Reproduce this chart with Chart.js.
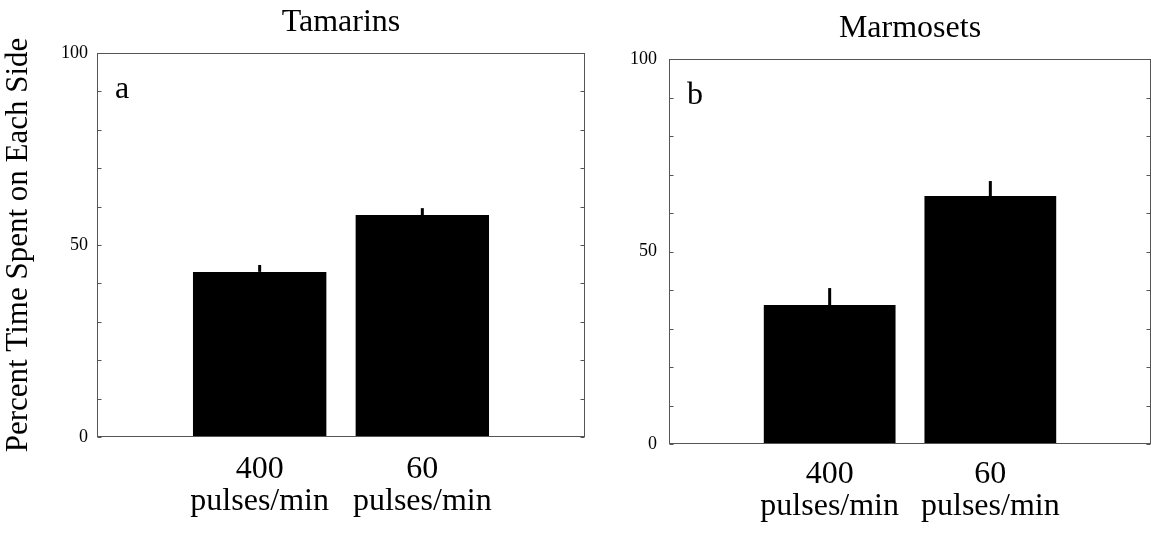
<!DOCTYPE html>
<html>
<head>
<meta charset="utf-8">
<script src="https://cdn.jsdelivr.net/npm/chart.js@4.4.0/dist/chart.umd.min.js"></script>
<style>
  body { margin: 0; background: #fff; width: 1151px; height: 533px; overflow: hidden; position: relative; }
  .panel { position: absolute; top: 0; height: 533px; }
</style>
</head>
<body>
<div class="panel" style="left:0;width:602px"><canvas id="tamarinChart"></canvas></div>
<div class="panel" style="left:600px;width:566px"><canvas id="marmosetChart"></canvas></div>
<script>
// data
const categories = [["400", "pulses/min"], ["60", "pulses/min"]];
const categoryPositions = [1, 2];
const tamarinValues = [43.0, 57.8];
const tamarinErrors = [1.8, 1.8];
const marmosetValues = [36.1, 64.4];
const marmosetErrors = [4.4, 3.9];
const yTickLabels = [0, 50, 100];

const serif = "'Liberation Serif', 'Times New Roman', serif";

// frame, inward ticks, upper error bars and the panel letter
function panelPlugin(errors, letter) {
  return {
    id: "panelExtras",
    afterDatasetsDraw(chart) {
      const ctx = chart.ctx;
      const area = chart.chartArea;
      const y = chart.scales.y;
      ctx.save();

      // error bars (upper half only)
      const meta = chart.getDatasetMeta(0);
      const values = chart.data.datasets[0].data;
      ctx.strokeStyle = "#000";
      ctx.lineWidth = 3;
      meta.data.forEach((bar, i) => {
        const top = y.getPixelForValue(values[i].y + errors[i]);
        ctx.beginPath();
        ctx.moveTo(bar.x, bar.y);
        ctx.lineTo(bar.x, top);
        ctx.stroke();
      });

      // box
      ctx.strokeStyle = "#555";
      ctx.lineWidth = 1;
      const l = Math.round(area.left) + 0.5, r = Math.round(area.right) - 0.5;
      const t = Math.round(area.top) + 0.5, b = Math.round(area.bottom) - 0.5;
      ctx.strokeRect(l, t, r - l, b - t);

      // inward ticks on both sides
      ctx.beginPath();
      y.ticks.forEach((tick) => {
        const py = Math.round(y.getPixelForValue(tick.value)) + 0.5;
        ctx.moveTo(l, py);
        ctx.lineTo(l + 4, py);
        ctx.moveTo(r, py);
        ctx.lineTo(r - 4, py);
      });
      ctx.stroke();

      // panel letter
      ctx.fillStyle = "#000";
      ctx.font = "32px " + serif;
      ctx.textAlign = "left";
      ctx.textBaseline = "alphabetic";
      ctx.fillText(letter, area.left + 18, area.top + 45);
      ctx.restore();
    },
  };
}

function makeChart(canvasId, title, values, errors, letter, opts) {
  const ctx = document.getElementById(canvasId).getContext("2d");
  const points = categoryPositions.map((x, i) => ({ x: x, y: values[i] }));
  return new Chart(ctx, {
    type: "bar",
    data: {
      datasets: [
        {
          data: points,
          backgroundColor: "#000",
          borderWidth: 0,
          barPercentage: 0.82,
          categoryPercentage: 1,
        },
      ],
    },
    options: {
      responsive: true,
      maintainAspectRatio: false,
      animation: false,
      layout: { padding: { left: 0, right: 0, top: 0, bottom: 0 } },
      plugins: {
        legend: { display: false },
        tooltip: { enabled: false },
        title: {
          display: true,
          text: title,
          fullSize: false,
          color: "#000",
          font: { family: serif, size: 32, weight: "normal", lineHeight: 1.2 },
          padding: { top: opts.titleTop, bottom: opts.titleBottom },
        },
      },
      scales: {
        x: {
          type: "linear",
          min: 0,
          max: 3,
          offset: false,
          grid: { display: false, drawTicks: false, offset: false },
          border: { display: false },
          afterFit: (scale) => { scale.height = opts.xHeight; },
          ticks: {
            stepSize: 1,
            padding: opts.xPad,
            maxRotation: 0,
            autoSkip: false,
            color: "#000",
            font: { family: serif, size: 32, lineHeight: 1.0 },
            callback: (v) => {
              const idx = categoryPositions.indexOf(v);
              return idx >= 0 ? categories[idx] : "";
            },
          },
        },
        y: {
          min: 0,
          max: 100,
          grid: { display: false, drawTicks: false },
          border: { display: false },
          afterFit: (scale) => { scale.width = opts.yWidth; },
          title: {
            display: opts.showYTitle,
            text: "Percent Time Spent on Each Side",
            color: "#000",
            font: { family: serif, size: 31, lineHeight: 1.0 },
            padding: { top: 3, bottom: 0 },
          },
          ticks: {
            stepSize: 10,
            padding: opts.yPad,
            autoSkip: false,
            color: "#000",
            font: { family: serif, size: 18 },
            callback: (v) => (yTickLabels.includes(v) ? String(v) : ""),
          },
        },
      },
    },
    plugins: [panelPlugin(errors, letter)],
  });
}

makeChart("tamarinChart", "Tamarins", tamarinValues, tamarinErrors, "a", {
  titleTop: 3, titleBottom: 11.6, xHeight: 96, xPad: 17,
  yWidth: 97, yPad: 9, showYTitle: true,
});

makeChart("marmosetChart", "Marmosets", marmosetValues, marmosetErrors, "b", {
  titleTop: 9, titleBottom: 11.6, xHeight: 89, xPad: 15,
  yWidth: 69, yPad: 12, showYTitle: false,
});
</script>
</body>
</html>
